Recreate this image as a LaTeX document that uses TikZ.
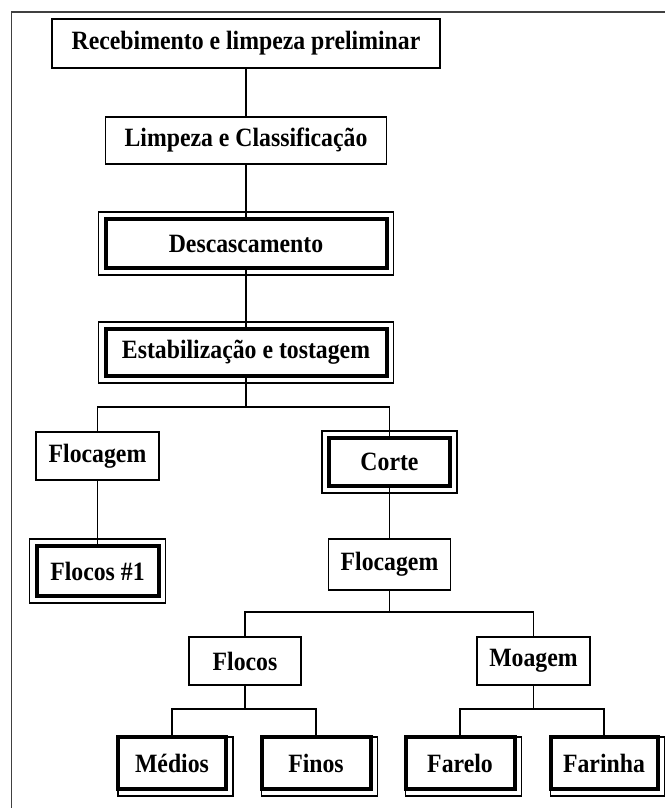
\documentclass[tikz,border=0pt]{standalone}
\usepackage{fontspec}
\setmainfont{Liberation Serif}[FakeStretch=0.9]
\tikzset{
	box/.style={draw,rectangle,line width=0.6pt,inner sep=0pt,outer sep=0pt,font=\bfseries\fontsize{13.2}{15}\selectfont},
	heavybox/.style={box,line width=2pt,
		append after command={\pgfextra{\draw[line width=0.6pt] ([shift={(-3.5pt,3.5pt)}]\tikzlastnode.north west) rectangle ([shift={(3.5pt,-3.5pt)}]\tikzlastnode.south east);}}},
	shadowbox/.style={box,line width=2pt,
		append after command={\pgfextra{\draw[line width=0.6pt] (\tikzlastnode.north west) rectangle ([shift={(3.5pt,-3.5pt)}]\tikzlastnode.south east);}}},
	link/.style={line width=0.6pt},
}
\begin{document}
\begin{tikzpicture}[x=0.5pt,y=-0.5pt]
	\useasboundingbox (0,0) rectangle (665,808);
	\draw[line width=0.9pt,black!75] (11.5,808) |- (665,12);
	% main line
	\node[name=receb,box,minimum width=194pt,minimum height=24.5pt] at (246,43.5){Recebimento e limpeza preliminar};
	\node[name=limp,box,minimum width=140.5pt,minimum height=23.5pt] at (246,140.5){Limpeza e Classificação};
	\node[name=desc,heavybox,minimum width=140.5pt,minimum height=24.5pt] at (246,243.5){Descascamento};
	\node[name=estab,heavybox,minimum width=140.5pt,minimum height=23.5pt] at (246,352.5){Estabilização e tostagem};
	% branches
	\node[name=flocA,box,minimum width=61.5pt,minimum height=24pt] at (97.5,456){Flocagem};
	\node[name=corte,heavybox,minimum width=60.5pt,minimum height=24pt] at (389.5,462){Corte};
	\node[name=flocos1,heavybox,minimum width=61pt,minimum height=25pt] at (97.5,571){Flocos \#1};
	\node[name=flocB,box,minimum width=61pt,minimum height=25.5pt] at (389.5,564.5){Flocagem};
	\node[name=flocos,box,minimum width=56pt,minimum height=24pt] at (245,661){Flocos};
	\node[name=moag,box,minimum width=56.5pt,minimum height=24pt] at (533.5,661){Moagem};
	% products
	\node[name=medios,shadowbox,minimum width=54pt,minimum height=26pt] at (172,763){Médios};
	\node[name=finos,shadowbox,minimum width=54.5pt,minimum height=26pt] at (316,763){Finos};
	\node[name=farelo,shadowbox,minimum width=54.5pt,minimum height=26pt] at (460,763){Farelo};
	\node[name=farinha,shadowbox,minimum width=53.5pt,minimum height=26pt] at (604,763){Farinha};
	% junctions
	\coordinate (j1) at (246,407);
	\coordinate (j2) at (389.5,612);
	\coordinate (j3) at (245,709);
	\coordinate (j4) at (533.5,709);
	\draw[link] (receb.south) -- (limp.north);
	\draw[link] (limp.south) -- (desc.north);
	\draw[link] (desc.south) -- (estab.north);
	\draw[link] (estab.south) -- (j1);
	\draw[link] (flocA.north) |- (j1) -| (corte.north);
	\draw[link] (flocA.south) -- (flocos1.north);
	\draw[link] (corte.south) -- (flocB.north);
	\draw[link] (flocB.south) -- (j2);
	\draw[link] (flocos.north) |- (j2) -| (moag.north);
	\draw[link] (flocos.south) -- (j3);
	\draw[link] (medios.north) |- (j3) -| (finos.north);
	\draw[link] (moag.south) -- (j4);
	\draw[link] (farelo.north) |- (j4) -| (farinha.north);
\end{tikzpicture}
\end{document}
